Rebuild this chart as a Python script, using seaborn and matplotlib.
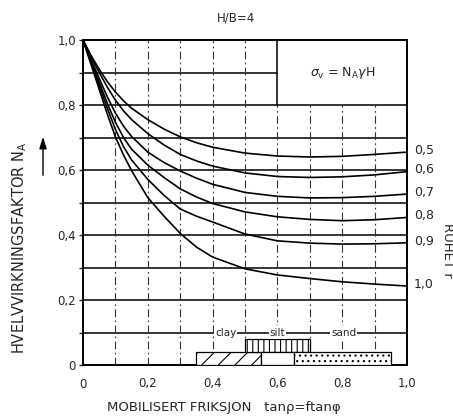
import numpy as np
import pandas as pd
import matplotlib
matplotlib.use("Agg")
import matplotlib.pyplot as plt
import seaborn as sns

# ---- data ----
friction = [0.0, 0.025, 0.05, 0.075, 0.1, 0.125, 0.15, 0.2, 0.25, 0.3, 0.35, 0.4,
            0.5, 0.6, 0.7, 0.8, 0.9, 1.0]
na_r05 = [1.0, 0.952, 0.910, 0.872, 0.840, 0.813, 0.790, 0.755, 0.726, 0.702, 0.684, 0.670,
          0.652, 0.643, 0.640, 0.642, 0.648, 0.655]
na_r06 = [1.0, 0.948, 0.900, 0.855, 0.815, 0.782, 0.755, 0.712, 0.677, 0.648, 0.628, 0.612,
          0.591, 0.580, 0.577, 0.579, 0.585, 0.595]
na_r07 = [1.0, 0.940, 0.882, 0.825, 0.775, 0.735, 0.703, 0.655, 0.623, 0.597, 0.575, 0.556,
          0.531, 0.519, 0.514, 0.515, 0.519, 0.526]
na_r08 = [1.0, 0.935, 0.870, 0.805, 0.747, 0.700, 0.664, 0.615, 0.577, 0.542, 0.517, 0.497,
          0.471, 0.456, 0.448, 0.444, 0.447, 0.454]
na_r09 = [1.0, 0.930, 0.860, 0.790, 0.725, 0.672, 0.631, 0.571, 0.522, 0.480, 0.458, 0.440,
          0.403, 0.382, 0.375, 0.372, 0.373, 0.376]
na_r10 = [1.0, 0.924, 0.848, 0.772, 0.702, 0.646, 0.598, 0.515, 0.458, 0.405, 0.363, 0.332,
          0.296, 0.277, 0.266, 0.256, 0.249, 0.243]
roughness_labels = ["0,5", "0,6", "0,7", "0,8", "0,9", "1,0"]
curves = [na_r05, na_r06, na_r07, na_r08, na_r09, na_r10]

tick_values = [0.0, 0.2, 0.4, 0.6, 0.8, 1.0]
tick_labels = ["0", "0,2", "0,4", "0,6", "0,8", "1,0"]

soil_names = ["clay", "silt", "sand"]
soil_name_x = [0.44, 0.60, 0.805]
band_left = [0.35, 0.50, 0.55, 0.65]
band_right = [0.55, 0.70, 0.65, 0.95]
band_bottom = [0.0, 0.04, 0.0, 0.0]
band_top = [0.04, 0.08, 0.04, 0.04]
band_hatch = ["//", "|||", "", "..."]

# ---- build long table ----
rows = []
for lab, vals in zip(roughness_labels, curves):
    for x, y in zip(friction, vals):
        rows.append({"f": x, "na": y, "r": lab})
df = pd.DataFrame(rows)

sns.set_theme(style="white")
plt.rcParams["font.family"] = ["DejaVu Sans"]
plt.rcParams["hatch.linewidth"] = 0.8
plt.rcParams["mathtext.fontset"] = "dejavusans"

fig = plt.figure(figsize=(4.53, 4.16), dpi=100)
ax = fig.add_axes([83 / 453, 1 - 365 / 416, 324 / 453, 325 / 416])
ax.set_xlim(0, 1.0)
ax.set_ylim(0, 1.0)

# grid
for gy in [0.1, 0.2, 0.3, 0.4, 0.5, 0.6, 0.7, 0.8]:
    ax.axhline(gy, color="black", lw=1.1, zorder=1)
ax.axhline(0.9, xmax=0.6, color="black", lw=1.1, zorder=1)
dash = (0, (7, 3, 1.5, 3))
for gx in [0.1, 0.2, 0.3, 0.4, 0.5]:
    ax.axvline(gx, color="#333333", lw=0.8, ls=dash, zorder=1)
for gx in [0.6, 0.7, 0.8, 0.9]:
    ax.axvline(gx, ymax=0.8, color="#333333", lw=0.8, ls=dash, zorder=1)
ax.axvline(0.6, ymin=0.8, color="black", lw=1.1, zorder=1)

# curves
sns.lineplot(data=df, x="f", y="na", hue="r", palette=["black"] * 6,
             legend=False, lw=1.2, ax=ax, zorder=3, sort=False)

for lab, vals in zip(roughness_labels, curves):
    ax.text(1.022, vals[-1] + 0.005, lab, transform=ax.get_yaxis_transform(),
            ha="left", va="center", fontsize=9, clip_on=False)

# soil bands
for l, r, b, t, h in zip(band_left, band_right, band_bottom, band_top, band_hatch):
    ax.bar(l, t - b, width=r - l, bottom=b, align="edge", facecolor="white",
           edgecolor="black", hatch=h, lw=0.9, zorder=4)
for name, x in zip(soil_names, soil_name_x):
    ax.text(x, 0.1, name, ha="center", va="center", fontsize=7.5, zorder=5,
            bbox=dict(boxstyle="square,pad=0.1", fc="white", ec="none"))

# formula box text
ax.text(0.80, 0.898, r"$\sigma_\mathregular{v}$ = N$_\mathregular{A}$$\gamma$H",
        ha="center", va="center", fontsize=9)

# axes styling
for s in ax.spines.values():
    s.set_color("black")
    s.set_linewidth(1.4)
ax.set_xticks(tick_values)
ax.set_xticklabels(tick_labels, fontsize=8.5)
ax.set_yticks(tick_values)
ax.set_yticklabels(tick_labels, fontsize=8.5)
ax.set_yticks([0.1, 0.3, 0.5, 0.7, 0.9], minor=True)
ax.tick_params(axis="y", which="both", direction="out", length=3, width=1, pad=2, left=True)
ax.tick_params(axis="x", which="both", length=0, pad=9)
ax.set_xlabel("")
ax.set_ylabel("")

fig.text(236 / 453, 1 - 18 / 416, "H/B=4", ha="center", va="center", fontsize=8.5)
fig.text(224 / 453, 1 - 407 / 416, "MOBILISERT FRIKSJON   tanρ=ftanφ",
         ha="center", va="center", fontsize=9.5)
fig.text(20 / 453, 1 - 248 / 416, r"HVELVVIRKNINGSFAKTOR N$_\mathregular{A}$",
         ha="center", va="center", rotation=90, fontsize=10.5)
fig.text(447 / 453, 1 - 250 / 416, "RUHET r", ha="center", va="center",
         rotation=270, fontsize=9.5)
fig.patches.append(matplotlib.patches.FancyArrowPatch(
    (43 / 453, 1 - 178 / 416), (43 / 453, 1 - 134 / 416), transform=fig.transFigure,
    arrowstyle="-|>,head_length=7,head_width=2.2", color="black", lw=1.0))

fig.savefig("out.png", dpi=100)
